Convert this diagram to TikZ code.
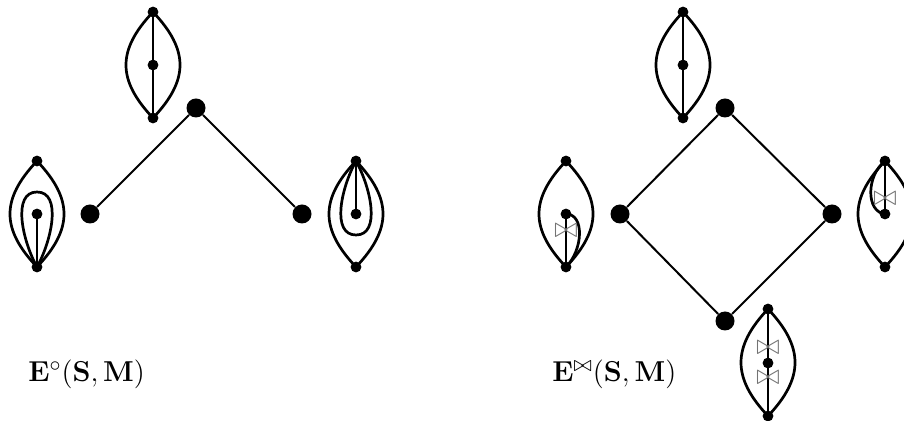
\documentclass[tikz,border=0pt]{standalone}
\usepackage{amsmath,amssymb}
\tikzset{
  sdot/.style={circle, fill=black, inner sep=0pt, minimum size=5.4pt},
  bdot/.style={circle, fill=black, inner sep=0pt, minimum size=9.5pt},
  edgeline/.style={line width=1pt},
  lensline/.style={line width=1.35pt},
  bt/.style={text=black!55, inner sep=0pt, font=\fontsize{14}{14}\selectfont},
  lbl/.style={anchor=base west, inner sep=0pt, font=\fontsize{15.8}{19}\selectfont}
}
\newcommand{\lensat}[2]{%
  \draw[lensline] (#1.center) .. controls +(36,38) and +(36,-38) .. (#2.center)
     .. controls +(-36,-38) and +(-36,38) .. (#1.center);}
\begin{document}
\begin{tikzpicture}[x=0.5pt,y=-0.5pt]
\useasboundingbox (0,0) rectangle (904,421);

% ---------- left diagram ----------
\node[bdot] (T) at (196,108) {};
\node[bdot] (L) at (90,214) {};
\node[bdot] (R) at (302,214) {};
\draw[edgeline] (T) -- (L);
\draw[edgeline] (T) -- (R);

% top bowl
\node[sdot] (a1) at (153,12) {};
\node[sdot] (a2) at (153,65) {};
\node[sdot] (a3) at (153,118) {};
\lensat{a1}{a3}
\draw[lensline] (a1.center) -- (a3.center);

% left bowl
\node[sdot] (b1) at (37,161) {};
\node[sdot] (b2) at (37,214) {};
\node[sdot] (b3) at (37,267) {};
\lensat{b1}{b3}
\draw[lensline] (b2.center) -- (b3.center);
\draw[lensline] (b3.center) .. controls (22,240) and (12,192) .. (37,192)
   .. controls (62,192) and (52,240) .. (b3.center);

% right bowl
\node[sdot] (c1) at (356,161) {};
\node[sdot] (c2) at (356,214) {};
\node[sdot] (c3) at (356,267) {};
\lensat{c1}{c3}
\draw[lensline] (c1.center) -- (c2.center);
\draw[lensline] (c1.center) .. controls (341,188) and (331,235) .. (356,235)
   .. controls (381,235) and (371,188) .. (c1.center);

\node[lbl] (lab1) at (28,382) {$\mathbf{E}^{\circ}(\mathbf{S},\mathbf{M})$};

% ---------- right diagram ----------
\node[bdot] (D1) at (725,108) {};
\node[bdot] (D2) at (620,214) {};
\node[bdot] (D3) at (832,214) {};
\node[bdot] (D4) at (725,321) {};
\draw[edgeline] (D1) -- (D2);
\draw[edgeline] (D1) -- (D3);
\draw[edgeline] (D2) -- (D4);
\draw[edgeline] (D3) -- (D4);

% top bowl
\node[sdot] (e1) at (683,12) {};
\node[sdot] (e2) at (683,65) {};
\node[sdot] (e3) at (683,118) {};
\lensat{e1}{e3}
\draw[lensline] (e1.center) -- (e3.center);

% left bowl
\node[sdot] (f1) at (566,161) {};
\node[sdot] (f2) at (566,214) {};
\node[sdot] (f3) at (566,267) {};
\lensat{f1}{f3}
\draw[lensline] (f2.center) -- (f3.center);
\draw[lensline] (f2.center) .. controls (585,214) and (583,250) .. (f3.center);
\node[bt] (fb) at (566,231) {$\bowtie$};

% right bowl
\node[sdot] (g1) at (885,161) {};
\node[sdot] (g2) at (885,214) {};
\node[sdot] (g3) at (885,267) {};
\lensat{g1}{g3}
\draw[lensline] (g1.center) -- (g2.center);
\draw[lensline] (g1.center) .. controls (866,176) and (866,212) .. (g2.center);
\node[bt] (gb) at (885,199) {$\bowtie$};

% bottom bowl
\node[sdot] (h1) at (768,309) {};
\node[sdot] (h2) at (768,363) {};
\node[sdot] (h3) at (768,416) {};
\lensat{h1}{h3}
\draw[lensline] (h1.center) -- (h3.center);
\node[bt] (hb1) at (768,348) {$\bowtie$};
\node[bt] (hb2) at (768,378) {$\bowtie$};

\node[lbl] (lab2) at (552,382) {$\mathbf{E}^{\bowtie}(\mathbf{S},\mathbf{M})$};
\end{tikzpicture}
\end{document}
